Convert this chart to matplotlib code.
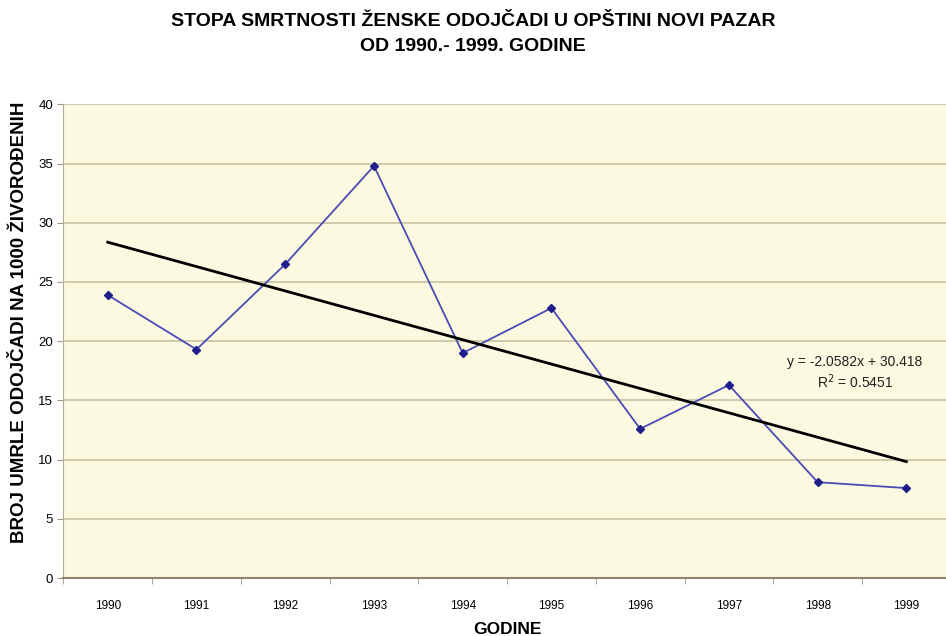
import numpy as np
import matplotlib.pyplot as plt

plt.rcParams['font.family'] = ['Liberation Sans', 'DejaVu Sans']

# --- Data ---
years = ["1990", "1991", "1992", "1993", "1994", "1995", "1996", "1997", "1998", "1999"]
rate = [23.9, 19.3, 26.5, 34.8, 19.0, 22.8, 12.6, 16.3, 8.1, 7.6]
trend_slope = -2.0582
trend_icept = 30.418
r_squared = 0.5451

x = np.arange(len(years))
trend = trend_slope * (x + 1) + trend_icept

# --- Figure ---
fig = plt.figure(figsize=(9.46, 6.36), dpi=100)
fig.patch.set_facecolor("white")
ax = fig.add_axes([0.067, 0.091, 0.938, 0.745])
ax.set_facecolor("#FCF9E1")

ax.plot(x, rate, color="#4B4BB5", lw=1.3, marker="D", ms=4.5,
        mfc="#1E1E8C", mec="#1E1E8C", zorder=3)
ax.plot(x, trend, color="black", lw=2, zorder=4)

ax.set_xlim(-0.5, len(years) - 0.5)
ax.set_ylim(0, 40)
ax.set_yticks(range(0, 41, 5))
ax.set_xticks(x)
ax.set_xticklabels(years)
ax.set_xticks(np.arange(-0.5, len(years)), minor=True)
ax.tick_params(axis="x", which="major", length=0, pad=16, labelsize=8.5)
ax.tick_params(axis="x", which="minor", length=4, color="#A09880")
ax.tick_params(axis="y", length=4, color="#A09880", labelsize=9.5)

ax.grid(axis="y", color="#C9C1A2", lw=1.2)
ax.set_axisbelow(True)
for side in ("top", "right"):
    ax.spines[side].set_visible(False)
ax.spines["left"].set_color("#B8B096")
ax.spines["bottom"].set_color("#8C846C")
ax.spines["bottom"].set_linewidth(1.5)

ax.set_xlabel("GODINE", fontsize=12.5, fontweight="bold", labelpad=7)
ax.set_ylabel("BROJ UMRLE ODOJČADI NA 1000 ŽIVOROĐENIH", fontsize=13.5,
              fontweight="bold")
ax.yaxis.set_label_coords(-0.04, 0.54)

ax.text(8.42, 17.3, f"y = {trend_slope}x + {trend_icept}\nR$^2$ = {r_squared}",
        ha="center", va="center", fontsize=10, color="#222222", linespacing=1.25)

fig.text(0.5, 0.966, "STOPA SMRTNOSTI ŽENSKE ODOJČADI U OPŠTINI NOVI PAZAR",
         ha="center", va="center", fontsize=14, fontweight="bold")
fig.text(0.5, 0.927, "OD 1990.- 1999. GODINE",
         ha="center", va="center", fontsize=14, fontweight="bold")

fig.savefig("out.png", dpi=100)
